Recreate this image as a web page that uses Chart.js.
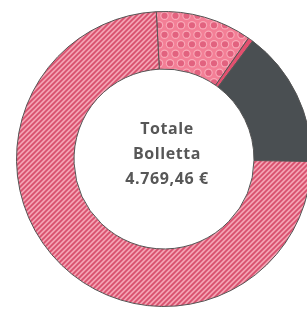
<!DOCTYPE html>
<html>
<head>
<meta charset="utf-8">
<script src="https://cdn.jsdelivr.net/npm/chart.js@4/dist/chart.umd.min.js"></script>
<style>
  html, body { margin: 0; padding: 0; background: #fff; width: 307px; height: 312px; overflow: hidden; }
  #wrap { position: absolute; left: 16px; top: 11px; width: 296px; height: 296px; }
  #centre {
    position: absolute; left: 107px; top: 116px; width: 120px;
    text-align: center; font-family: "Open Sans", sans-serif; font-weight: bold;
    font-size: 16px; letter-spacing: 0.6px; line-height: 25px; color: #575757;
  }
</style>
</head>
<body>
<div id="wrap"><canvas id="bill"></canvas></div>
<div id="centre"></div>
<script>
// Bill components (€), clockwise from top
const labels = ['Quota A', 'Quota B', 'Quota C', 'Quota D'];
const values = [503, 26, 716, 3524];
const centreLines = ['Totale', 'Bolletta', '4.769,46 €'];

// centre label as html text
document.getElementById('centre').innerHTML = centreLines.join('<br>');

// Striped pink fill
function stripes() {
	const c = document.createElement('canvas');
	c.width = 5; c.height = 5;
	const g = c.getContext('2d');
	g.fillStyle = '#f3a2b2';
	g.fillRect(0, 0, 5, 5);
	g.strokeStyle = '#d84f6d';
	g.lineWidth = 1.7;
	g.beginPath();
	g.moveTo(-1, 6); g.lineTo(6, -1);
	g.moveTo(-1, 1); g.lineTo(1, -1);
	g.moveTo(4, 6); g.lineTo(6, 4);
	g.stroke();
	return g.createPattern(c, 'repeat');
}

// Dotted pink fill
function dots() {
	const c = document.createElement('canvas');
	c.width = 11; c.height = 19;
	const g = c.getContext('2d');
	g.fillStyle = '#f37f96';
	g.fillRect(0, 0, 11, 19);
	[[5.5, 4.75], [0, 14.25], [11, 14.25]].forEach(p => {
		g.beginPath();
		g.arc(p[0], p[1], 4.2, 0, Math.PI * 2);
		g.fillStyle = '#f9aab9';
		g.fill();
		g.beginPath();
		g.arc(p[0], p[1], 3.1, 0, Math.PI * 2);
		g.fillStyle = '#e2627f';
		g.fill();
	});
	return g.createPattern(c, 'repeat');
}

new Chart(document.getElementById('bill'), {
	type: 'doughnut',
	data: {
		labels: labels,
		datasets: [{
			data: values,
			backgroundColor: [dots(), '#e2506f', '#4a4f52', stripes()],
			borderColor: '#555',
			borderWidth: 1
		}]
	},
	options: {
		responsive: true,
		maintainAspectRatio: false,
		animation: false,
		rotation: -3,
		cutout: '61%',
		plugins: { legend: { display: false }, tooltip: { enabled: false } }
	}
});
</script>
</body>
</html>
